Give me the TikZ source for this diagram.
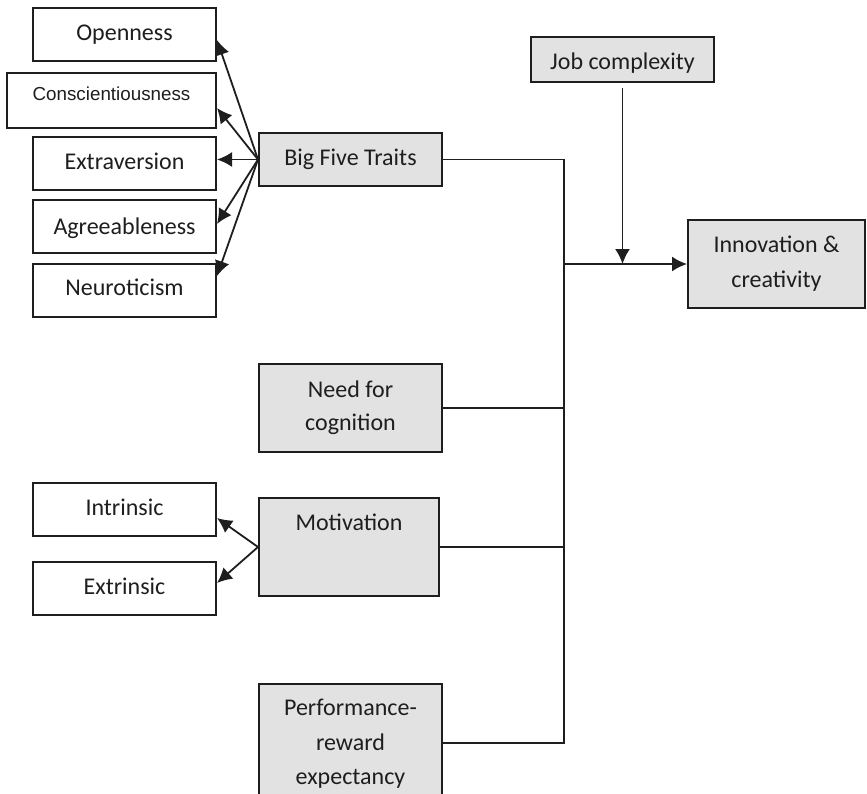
\documentclass[tikz,border=0pt]{standalone}
\usepackage{fontspec}
\setmainfont{Carlito}
\newfontfamily\arialfont{Liberation Sans}
\usetikzlibrary{arrows.meta}
\definecolor{boxgray}{HTML}{E2E2E2}
\definecolor{ink}{HTML}{1E1E1E}
\begin{document}
\begin{tikzpicture}[x=1pt,y=-1pt,
  wbox/.style={draw=ink,line width=2pt,fill=white,inner sep=0pt,minimum width=183pt,minimum height=53pt},
  gbox/.style={draw=ink,line width=2pt,fill=boxgray,inner sep=0pt},
  txt/.style={text=ink,font=\fontsize{24}{35}\selectfont,align=center,inner sep=0pt,text height=0.7em,text depth=0.25em},
  conn/.style={draw=ink,line width=1.8pt},
  arr/.style={conn,-{Latex[length=15pt,width=15pt]}}]
\useasboundingbox (0,0) rectangle (867,793);
% left white boxes
\node[wbox] (open) at (124.5,34.5) {};
\node[draw=ink,line width=2pt,fill=white,inner sep=0pt,minimum width=209pt,minimum height=55pt] (consc) at (111.5,100.5) {};
\node[wbox] (extra) at (124.5,163.5) {};
\node[wbox] (agree) at (124.5,226.5) {};
\node[wbox] (neuro) at (124.5,290.5) {};
\node[wbox] (intr) at (124.5,509.5) {};
\node[wbox] (extr) at (124.5,588.5) {};
% gray boxes
\node[gbox,minimum width=183pt,minimum height=53pt] (bft) at (350.5,159.5) {};
\node[gbox,minimum width=183pt,minimum height=88pt] (nfc) at (350.5,408) {};
\node[gbox,minimum width=180pt,minimum height=98pt] (mot) at (349,547) {};
\node[gbox,minimum width=183pt,minimum height=118pt] (perf) at (350.5,743) {};
\node[gbox,minimum width=183pt,minimum height=45pt] (job) at (622.5,59.5) {};
\node[gbox,minimum width=177pt,minimum height=88pt] (inno) at (776.5,264) {};
% texts
\node[txt] at (124.5,38) {Openness};
\node[txt,font=\arialfont\fontsize{18.8}{22}\selectfont] at (111.5,98) {Conscientiousness};
\node[txt] at (124.5,167) {Extraversion};
\node[txt] at (124.5,232) {Agreeableness};
\node[txt] at (124.5,293) {Neuroticism};
\node[txt] at (124.5,513) {Intrinsic};
\node[txt] at (124.5,592) {Extrinsic};
\node[txt] at (350.5,163) {Big Five Traits};
\node[txt] at (350.5,395) {Need for};
\node[txt] at (350.5,428) {cognition};
\node[txt] at (349,528) {Motivation};
\node[txt] at (350.5,713) {Performance-};
\node[txt] at (350.5,748) {reward};
\node[txt] at (350.5,782) {expectancy};
\node[txt] at (622.5,67) {Job complexity};
\node[txt] at (776.5,250) {Innovation \&};
\node[txt] at (776.5,285) {creativity};
% Big Five arrows
\draw[arr] (bft.west) -- ([yshift=-5.5pt]open.east);
\draw[arr] (bft.west) -- ([yshift=-7.5pt]consc.east);
\draw[arr] (bft.west) -- (bft.west -| extra.east);
\draw[arr] (bft.west) -- ([yshift=2.5pt]agree.east);
\draw[arr] (bft.west) -- ([yshift=14.5pt]neuro.east);
% Motivation arrows
\draw[arr] (mot.west) -- ([yshift=-8.5pt]intr.east);
\draw[arr] (mot.west) -- ([yshift=5.5pt]extr.east);
% bus
\coordinate (bustop) at (564,159.5);
\coordinate (busmid) at (564,264);
\coordinate (busbot) at (564,743);
\draw[conn] (bft.east) -- (bustop) -- (busbot) -- (perf.east);
\draw[conn] (nfc.east) -- (nfc.east -| bustop);
\draw[conn] (mot.east) -- (mot.east -| bustop);
\draw[arr] (busmid) -- (inno.west);
\draw[arr,shorten <=5pt] (job.south) -- (job.south |- inno.west);
\end{tikzpicture}
\end{document}
